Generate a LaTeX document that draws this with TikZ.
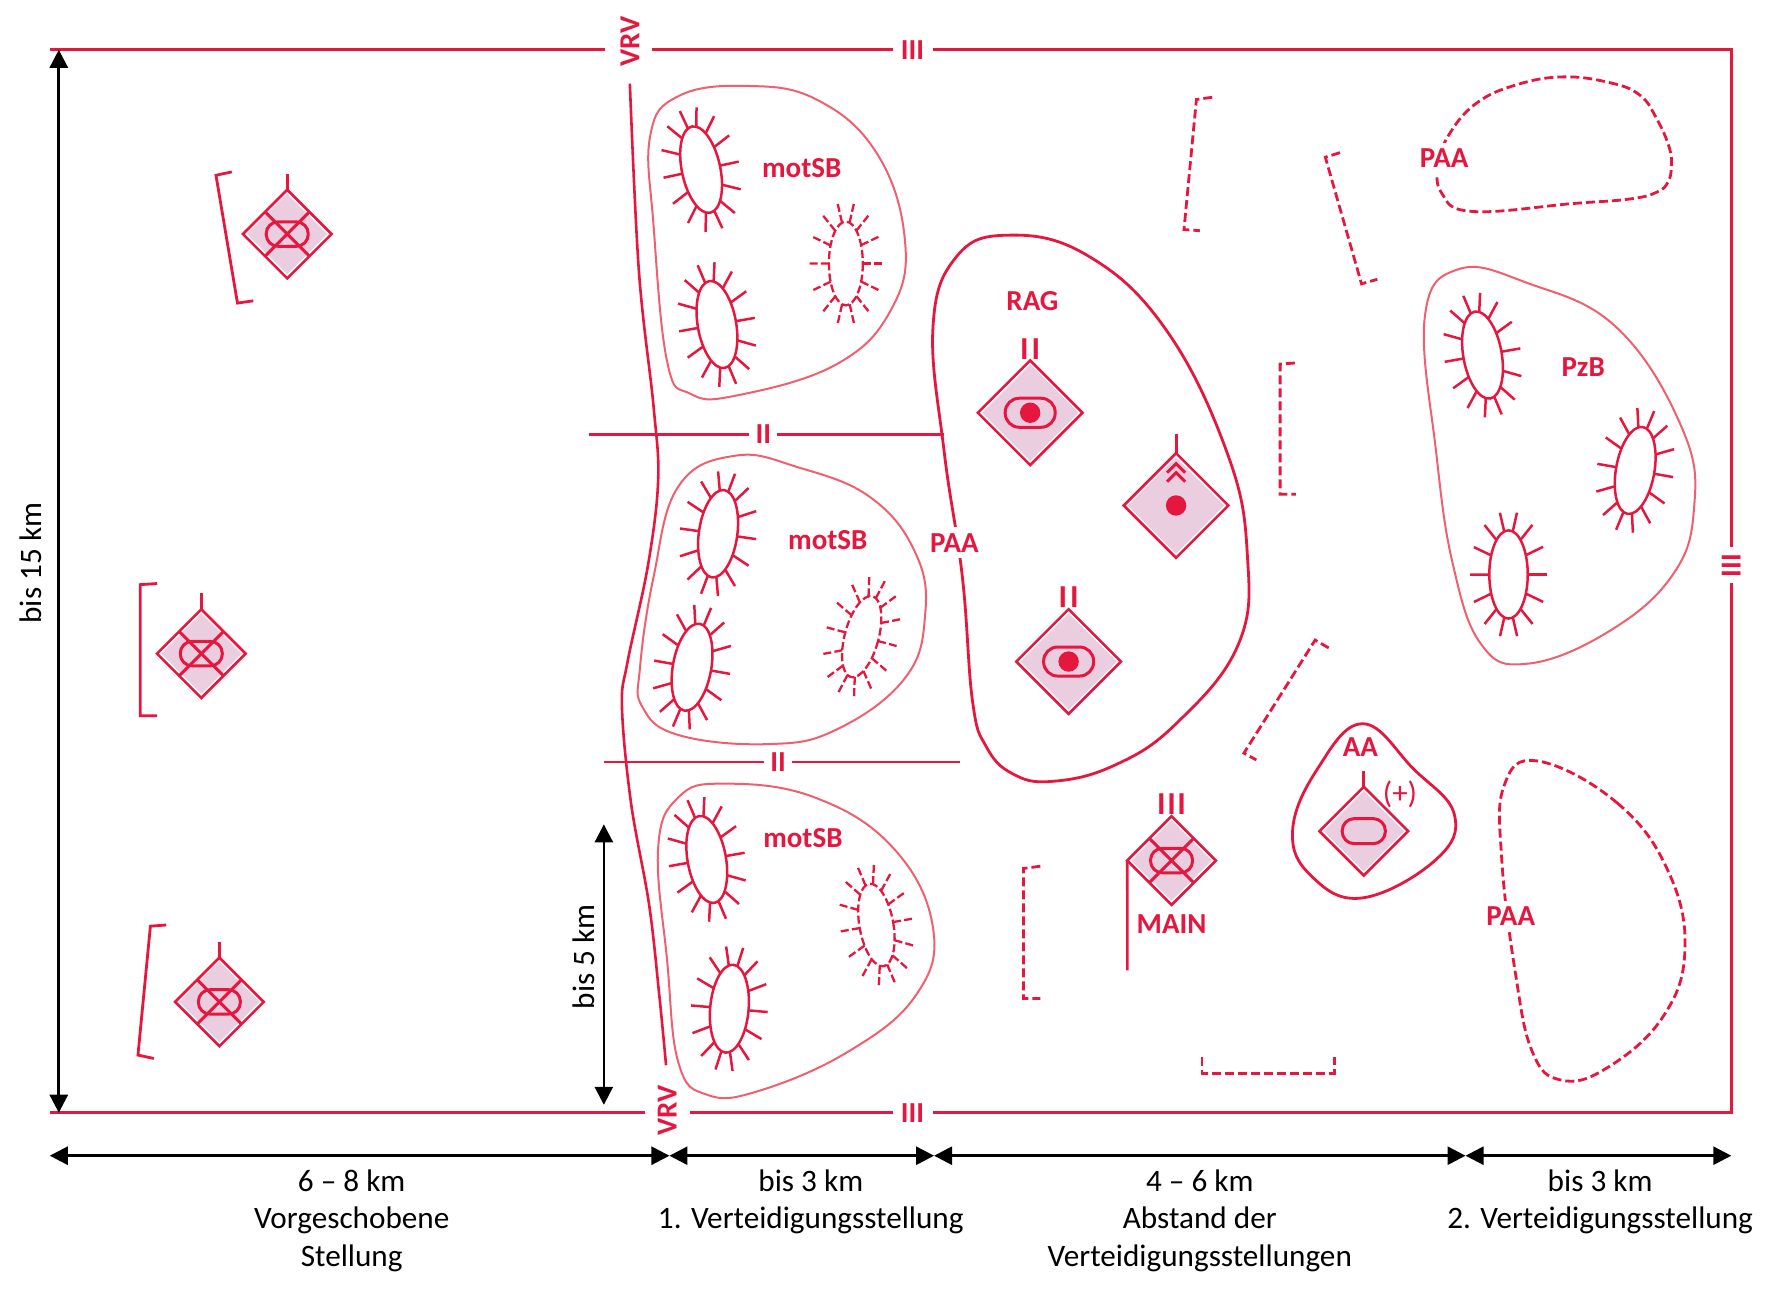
\documentclass[tikz,border=0pt]{standalone}
\usepackage{fontspec}
\setmainfont{Carlito}
\usetikzlibrary{shapes.geometric,arrows.meta}
\definecolor{armyred}{HTML}{E5173F}
\definecolor{softred}{HTML}{EE5F70}
\definecolor{armypink}{HTML}{EBCDE0}
\newcommand{\spikeoval}[6]{%
  \begin{scope}[shift={(#1,#2)},rotate=#3,#4]
    \draw (0,0) ellipse (#5 and #6);
    \foreach \a in {0,25.7,...,335}
      \draw (\a:#5 and #6) -- (\a:#5+17 and #6+17);
  \end{scope}}
\begin{document}
\begin{tikzpicture}[
        x=0.5654pt, y=-0.5654pt,
        frameline/.style={armyred, line width=1.5pt},
        tag/.style={text=armyred, font=\fontsize{14.5}{16}\selectfont\bfseries, inner sep=1.5pt},
        paatag/.style={tag, fill=white, inner sep=3pt},
        marktag/.style={tag, anchor=south, inner sep=0pt, font=\fontsize{16}{18}\selectfont\bfseries},
        blob/.style={softred, line width=1pt},
        strongblob/.style={armyred, line width=1.4pt},
        dashblob/.style={armyred, line width=1.4pt, dash pattern=on 4.5pt off 2pt},
        solidoval/.style={armyred, line width=1.25pt},
        dashoval/.style={armyred, line width=1.15pt, dash pattern=on 4pt off 1.6pt},
        bracketline/.style={armyred, line width=1.4pt},
        dashbracket/.style={armyred, line width=1.4pt, dash pattern=on 4.5pt off 2pt},
        unitbox/.style={diamond, aspect=1, inner sep=0pt, outer sep=0pt, fill=armypink, draw=white, line width=2.8pt,
            postaction={draw=armyred, line width=1.3pt}},
        smallunit/.style={unitbox, minimum size=44.3pt},
        bigunit/.style={unitbox, minimum size=52.3pt},
        pill/.style={draw=armyred, line width=1.5pt, inner sep=0pt, outer sep=0pt, minimum width=#1*0.568pt, minimum height=#1*0.33pt, rounded corners=#1*0.16pt},
        symline/.style={armyred, line width=1.5pt},
        dotmark/.style={circle, fill=armyred, inner sep=0pt, minimum size=10.2pt},
        dim/.style={<->, >={Triangle[length=9pt,width=9pt]}, line width=1.35pt, black},
        dimtext/.style={font=\fontsize{15.6}{18.7}\selectfont, align=center, inner sep=0pt, text=black}
    ]
    \useasboundingbox (0,0) rectangle (1567,1142.6);

    % frame with the labels that interrupt it
    \coordinate (ftl) at (44,44);
    \coordinate (ftr) at (1531,44);
    \coordinate (fbr) at (1531,984);
    \coordinate (fbl) at (44,984);
    \coordinate (gapTa) at (535,44);
    \coordinate (gapTb) at (577,44);
    \coordinate (gapBa) at (570,984);
    \coordinate (gapBb) at (610,984);
    \node[tag, rotate=90] (vrvT) at (557,37) {VRV};
    \node[tag, rotate=90] (vrvB) at (590,982) {VRV};
    \node[tag, inner xsep=4pt] (iiiT) at (807,44) {III};
    \node[tag, inner xsep=4pt] (iiiB) at (807,984) {III};
    \node[tag, rotate=90, inner xsep=3pt] (iiiR) at (1531,500) {III};
    \draw[frameline] (ftl) -- (gapTa);
    \draw[frameline] (gapTb) -- (iiiT) -- (ftr) -- (iiiR) -- (fbr) -- (iiiB) -- (gapBb);
    \draw[frameline] (fbl) -- (gapBa);

    % VRV line
    \coordinate (vrvS) at (557,74);
    \coordinate (vrvE) at (589,942);
    \draw[armyred, line width=1.3pt] plot[smooth, tension=0.6] coordinates {(vrvS) (565,240) (578,360) (582,425) (573,500) (555,585) (550,625) (558,710) (574,800) (583,880) (vrvE)};

    % II lines
    \coordinate (iiAl) at (521,384);
    \coordinate (iiAr) at (835,384);
    \coordinate (iiBl) at (534,674);
    \coordinate (iiBr) at (849,674);
    \node[tag, inner xsep=3pt] (iiA) at (675,384) {II};
    \node[tag, inner xsep=3pt] (iiB) at (688,674) {II};
    \draw[frameline, line width=1.3pt] (iiAl) -- (iiA) -- (iiAr);
    \draw[frameline, line width=1.3pt] (iiBl) -- (iiB) -- (iiBr);

    % areas
    \draw[blob] plot[smooth cycle, tension=0.7] coordinates {(660,76) (722,88) (775,135) (800,210) (789,272) (740,322) (650,350) (610,348) (590,320) (578,200) (575,120) (600,85)};
    \draw[blob] plot[smooth cycle, tension=0.7] coordinates {(650,403) (705,413) (770,440) (810,490) (818,545) (800,600) (740,645) (680,658) (600,650) (568,625) (566,590) (578,510) (600,430)};
    \draw[blob] plot[smooth cycle, tension=0.7] coordinates {(640,693) (720,705) (790,750) (825,820) (810,880) (750,930) (670,965) (625,968) (600,940) (590,850) (582,750) (600,705)};
    \draw[blob] plot[smooth cycle, tension=0.7] coordinates {(1290,238) (1350,250) (1430,290) (1488,380) (1498,450) (1478,510) (1420,560) (1350,587) (1310,570) (1285,500) (1270,400) (1260,280)};
    \draw[strongblob] plot[smooth cycle, tension=0.7] coordinates {(890,208) (960,225) (1030,290) (1085,400) (1103,490) (1095,570) (1040,640) (985,677) (930,691) (895,684) (872,660) (860,620) (851,510) (835,400) (825,290) (845,228)};
    \draw[strongblob] plot[smooth cycle, tension=0.7] coordinates {(1205,640) (1250,680) (1286,720) (1270,760) (1205,794) (1160,775) (1143,735) (1165,680)};
    \draw[dashblob] plot[smooth cycle, tension=0.7] coordinates {(1382,68) (1423,73) (1450,84) (1465,105) (1476,130) (1478,147) (1475,161) (1465,170) (1441,176) (1391,180) (1302,187) (1275,171) (1272,145) (1282,118) (1306,91) (1341,75)};
    \draw[dashblob] plot[smooth cycle, tension=0.7] coordinates {(1360,673) (1430,710) (1475,770) (1490,840) (1470,900) (1420,945) (1380,955) (1355,930) (1340,860) (1328,760) (1330,695)};

    % strongpoints
    \spikeoval{620}{150}{12}{solidoval}{17}{39}
    \spikeoval{634}{287}{10}{solidoval}{17}{39}
    \spikeoval{748}{233}{0}{dashoval}{15}{37}
    \spikeoval{635}{472}{-8}{solidoval}{17}{39}
    \spikeoval{612}{590}{-10}{solidoval}{17}{39}
    \spikeoval{762}{563}{-15}{dashoval}{15}{37}
    \spikeoval{625}{760}{10}{solidoval}{17}{39}
    \spikeoval{645}{892}{-5}{solidoval}{17}{39}
    \spikeoval{775}{818}{10}{dashoval}{15}{37}
    \spikeoval{1311}{314}{10}{solidoval}{17}{39}
    \spikeoval{1446}{416}{-10}{solidoval}{17}{39}
    \spikeoval{1334}{508}{0}{solidoval}{17}{39}

    % brackets
    \draw[bracketline] (205,152) -- (191,155) -- (210,268) -- (224,266);
    \draw[bracketline] (139,516) -- (124,517) -- (124,633) -- (139,633);
    \draw[bracketline] (147,818) -- (133,819) -- (122,933) -- (136,936);
    \draw[dashbracket] (1072,86) -- (1058,88) -- (1047,203) -- (1061,204);
    \draw[dashbracket] (1185,135) -- (1172,139) -- (1204,251) -- (1218,247);
    \draw[dashbracket] (1145,321) -- (1132,322) -- (1132,437) -- (1146,437);
    \draw[dashbracket] (1175,573) -- (1163,566) -- (1100,666) -- (1111,672);
    \draw[dashbracket] (920,766) -- (905,768) -- (905,883) -- (920,883);
    \draw[dashbracket] (1063,935) -- (1063,949) -- (1180,949) -- (1180,935);

    % recce units
    \foreach \n/\x/\y in {rcA/254/207, rcB/178/578, rcC/194/886, rcD/1036/761} {
        \node[smallunit] (\n) at (\x,\y) {};
        \node[pill=37] (\n p) at (\n) {};
        \draw[symline] (\n.north east) -- (\n.south west);
        \draw[symline] (\n.north west) -- (\n.south east);
    }
    \foreach \n in {rcA,rcB,rcC}
        \draw[symline] (\n.north) -- ++(0,-14);
    \coordinate (mainE) at (997,858);
    \draw[frameline, line width=1.3pt] (rcD.west) -- (mainE);
    \node[marktag] (rcDt) at ([yshift=0.5pt]rcD.north) {I\kern0.8pt I\kern0.8pt I};
    \node[tag] (mainT) at (1036,817) {MAIN};

    % RAG units
    \node[bigunit] (tkA) at (911,365) {};
    \node[pill=44] (tkAp) at (tkA) {};
    \node[dotmark] (tkAd) at (tkA) {};
    \node[marktag] (tkAt) at ([yshift=0.5pt]tkA.north) {I\kern1.5pt I};
    \node[bigunit] (tkB) at (945,585) {};
    \node[pill=44] (tkBp) at (tkB) {};
    \node[dotmark] (tkBd) at (tkB) {};
    \node[marktag] (tkBt) at ([yshift=0.5pt]tkB.north) {I\kern1.5pt I};
    \node[bigunit] (gm) at (1040,447) {};
    \node[dotmark] (gmd) at (gm) {};
    \draw[symline] (gm.north) -- ++(0,-17);
    \draw[symline] ([shift={(-8,-29)}]gm.center) -- ++(8,-8) -- ++(8,8);
    \draw[symline] ([shift={(-8,-21)}]gm.center) -- ++(8,-8) -- ++(8,8);

    % AA unit
    \node[smallunit] (aaU) at (1206,735) {};
    \node[pill=38] (aaUp) at (aaU) {};
    \draw[symline] (aaU.north) -- ++(0,-14);
    \node[tag, font=\fontsize{15.5}{17}\selectfont] (aaPlus) at (1238,702) {(+)};

    % labels
    \node[tag] (sbA) at (709,149) {motSB};
    \node[tag] (sbB) at (732,478) {motSB};
    \node[tag] (sbC) at (710,741) {motSB};
    \node[tag] (pzb) at (1400,325) {PzB};
    \node[tag] (rag) at (913,266) {RAG};
    \node[tag] (aaT) at (1203,661) {AA};
    \node[paatag] (paaA) at (844,480) {PAA};
    \node[paatag] (paaB) at (1277,140) {PAA};
    \node[paatag] (paaC) at (1336,810) {PAA};

    % dimensions
    \coordinate (dvT) at (52,44);
    \coordinate (dvB) at (52,984);
    \coordinate (dsT) at (534,729);
    \coordinate (dsB) at (534,977);
    \coordinate (dhA) at (44,1022);
    \coordinate (dhB) at (592,1022);
    \coordinate (dhC) at (826,1022);
    \coordinate (dhD) at (1296,1022);
    \coordinate (dhE) at (1531,1022);
    \draw[dim] (dvT) -- (dvB);
    \draw[dim] (dsT) -- (dsB);
    \draw[dim] (dhA) -- (dhB);
    \draw[dim] (dhB) -- (dhC);
    \draw[dim] (dhC) -- (dhD);
    \draw[dim] (dhD) -- (dhE);
    \node[dimtext, rotate=90] (lblV) at (27,498) {bis 15 km};
    \node[dimtext, rotate=90] (lblS) at (516,846) {bis 5 km};
    \node[dimtext, anchor=north] (lblA) at (311,1034) {6 -- 8 km\\Vorgeschobene\\Stellung};
    \node[dimtext, anchor=north] (lblB) at (717,1034) {bis 3 km\\1. Verteidigungsstellung};
    \node[dimtext, anchor=north] (lblC) at (1061,1034) {4 -- 6 km\\Abstand der\\Verteidigungsstellungen};
    \node[dimtext, anchor=north] (lblD) at (1415,1034) {bis 3 km\\2. Verteidigungsstellung};
\end{tikzpicture}
\end{document}
